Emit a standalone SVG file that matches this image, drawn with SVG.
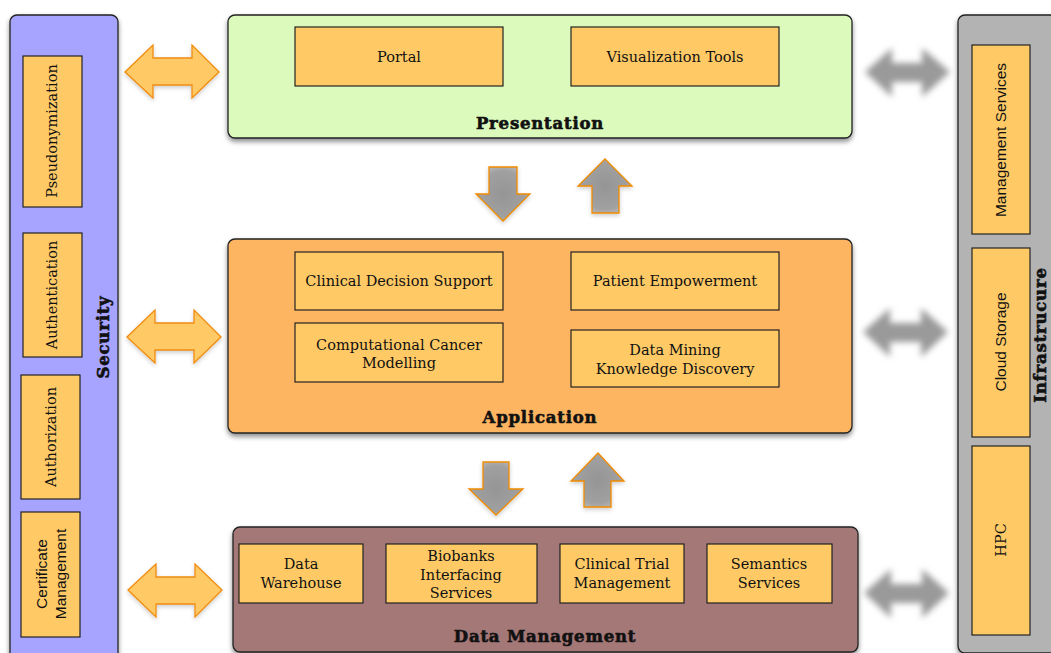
<svg xmlns="http://www.w3.org/2000/svg" width="1051" height="653" viewBox="0 0 1051 653">
<defs>
<style>
.panel{stroke:#222;stroke-width:1.3;filter:url(#sh)}
.box{fill:#FFCA66;stroke:#222;stroke-width:1.2}
.t{font-family:"DejaVu Serif","Liberation Serif",serif;font-size:14.5px;fill:#111;text-anchor:middle}
.s{font-family:"Liberation Sans",Arial,sans-serif;font-size:15.5px;fill:#111;text-anchor:middle}
.h{font-family:"DejaVu Serif","Liberation Serif",serif;font-weight:bold;font-size:16.5px;fill:#111;stroke:#111;stroke-width:0.6;text-anchor:middle;letter-spacing:0.8px}
.oa{fill:#FFCA66;stroke:#F08C10;stroke-width:1.3;filter:url(#ash)}
.ga{fill:url(#gg);stroke:#F08A00;stroke-width:1.3;filter:url(#ash)}
.ba{fill:#9A9A9A;filter:url(#blur)}
</style>
<filter id="sh" x="-10%" y="-10%" width="120%" height="125%">
<feDropShadow dx="0" dy="3" stdDeviation="2.5" flood-color="#000" flood-opacity="0.45"/>
</filter>
<filter id="ash" x="-20%" y="-20%" width="140%" height="150%">
<feDropShadow dx="0" dy="2" stdDeviation="2" flood-color="#000" flood-opacity="0.2"/>
</filter>
<filter id="blur" x="-20%" y="-40%" width="140%" height="180%">
<feGaussianBlur stdDeviation="3.2"/>
</filter>
<radialGradient id="gg" cx="0.5" cy="0.5" r="0.6">
<stop offset="0" stop-color="#959595"/>
<stop offset="0.7" stop-color="#A0A0A0"/>
<stop offset="1" stop-color="#BDBDBD"/>
</radialGradient>
</defs>
<rect width="1051" height="653" fill="#fff"/>

<g id="security">
<rect class="panel" x="10" y="15" width="108" height="650" rx="7" fill="#A6A4FF"/>
<text class="h" transform="translate(109,337) rotate(-90)">Security</text>
</g>
<g id="pseudonymization">
<rect class="box" x="23" y="56" width="59" height="151"/>
<text class="t" transform="translate(57,131) rotate(-90)">Pseudonymization</text>
</g>
<g id="authentication">
<rect class="box" x="23" y="233" width="59" height="124"/>
<text class="t" transform="translate(57,295) rotate(-90)">Authentication</text>
</g>
<g id="authorization">
<rect class="box" x="21" y="375" width="59" height="124"/>
<text class="t" transform="translate(56,437) rotate(-90)">Authorization</text>
</g>
<g id="certificate-management">
<rect class="box" x="21" y="512" width="59" height="125"/>
<text class="s" transform="translate(47,574) rotate(-90)">Certificate</text>
<text class="s" transform="translate(66,574) rotate(-90)">Management</text>
</g>

<g id="infrastructure">
<rect class="panel" x="958" y="15" width="110" height="638" rx="7" fill="#B3B3B3"/>
<text class="h" transform="translate(1046,335) rotate(-90)">Infrastrucure</text>
</g>
<g id="management-services">
<rect class="box" x="972" y="45" width="58" height="189"/>
<text class="s" transform="translate(1006,140) rotate(-90)">Management Services</text>
</g>
<g id="cloud-storage">
<rect class="box" x="972" y="248" width="58" height="189"/>
<text class="s" transform="translate(1006,342) rotate(-90)">Cloud Storage</text>
</g>
<g id="hpc">
<rect class="box" x="972" y="446" width="58" height="189"/>
<text class="t" transform="translate(1006,540) rotate(-90)">HPC</text>
</g>

<g id="presentation">
<rect class="panel" x="228" y="15" width="624" height="123" rx="7" fill="#DBFABC"/>
<text class="h" x="540" y="129">Presentation</text>
</g>
<g id="portal">
<rect class="box" x="295" y="27" width="208" height="59"/>
<text class="t" x="399" y="62">Portal</text>
</g>
<g id="visualization-tools">
<rect class="box" x="571" y="27" width="208" height="59"/>
<text class="t" x="675" y="62">Visualization Tools</text>
</g>

<g id="application">
<rect class="panel" x="228" y="239" width="624" height="194" rx="7" fill="#FEB562"/>
<text class="h" x="540" y="423">Application</text>
</g>
<g id="clinical-decision-support">
<rect class="box" x="295" y="252" width="208" height="58"/>
<text class="t" x="399" y="286">Clinical Decision Support</text>
</g>
<g id="patient-empowerment">
<rect class="box" x="571" y="252" width="208" height="58"/>
<text class="t" x="675" y="286">Patient Empowerment</text>
</g>
<g id="computational-cancer-modelling">
<rect class="box" x="295" y="323" width="208" height="59"/>
<text class="t" x="399" y="350">Computational Cancer</text>
<text class="t" x="399" y="368">Modelling</text>
</g>
<g id="data-mining">
<rect class="box" x="571" y="330" width="208" height="57"/>
<text class="t" x="675" y="355">Data Mining</text>
<text class="t" x="675" y="374">Knowledge Discovery</text>
</g>

<g id="data-management">
<rect class="panel" x="233" y="527" width="625" height="125" rx="7" fill="#A57878"/>
<text class="h" x="545" y="642">Data Management</text>
</g>
<g id="data-warehouse">
<rect class="box" x="239" y="544" width="124" height="59"/>
<text class="t" x="301" y="569">Data</text>
<text class="t" x="301" y="588">Warehouse</text>
</g>
<g id="biobanks">
<rect class="box" x="386" y="544" width="151" height="59"/>
<text class="t" x="461" y="561">Biobanks</text>
<text class="t" x="461" y="580">Interfacing</text>
<text class="t" x="461" y="598">Services</text>
</g>
<g id="clinical-trial-management">
<rect class="box" x="560" y="544" width="124" height="59"/>
<text class="t" x="622" y="569">Clinical Trial</text>
<text class="t" x="622" y="588">Management</text>
</g>
<g id="semantics-services">
<rect class="box" x="707" y="544" width="125" height="59"/>
<text class="t" x="769" y="569">Semantics</text>
<text class="t" x="769" y="588">Services</text>
</g>

<g id="connectors">
<path class="oa" d="M125,72 L153,45 L153,58 L192,58 L192,45 L219,72 L192,98 L192,85 L153,85 L153,98 Z"/>
<path class="oa" d="M127,337 L155,310 L155,323 L194,323 L194,310 L221,337 L194,363 L194,350 L155,350 L155,363 Z"/>
<path class="oa" d="M128,590 L156,564 L156,577 L195,577 L195,564 L222,590 L195,617 L195,604 L156,604 L156,617 Z"/>

<path class="ba" d="M865,72 L892,48 L892,63 L922,63 L922,48 L950,72 L922,97 L922,82 L892,82 L892,97 Z"/>
<path class="ba" d="M863,332 L890,308 L890,323 L921,323 L921,308 L948,332 L921,357 L921,342 L890,342 L890,357 Z"/>
<path class="ba" d="M864,593 L891,569 L891,584 L922,584 L922,569 L949,593 L922,618 L922,603 L891,603 L891,618 Z"/>

<path class="ga" d="M489,167 L517,167 L517,194 L530,194 L503,221 L476,194 L489,194 Z"/>
<path class="ga" d="M605,159 L632,186 L619,186 L619,213 L592,213 L592,186 L578,186 Z"/>
<path class="ga" d="M483,462 L509,462 L509,489 L523,489 L496,515 L469,489 L483,489 Z"/>
<path class="ga" d="M598,453 L624,481 L611,481 L611,507 L584,507 L584,481 L571,481 Z"/>
</g>
</svg>
